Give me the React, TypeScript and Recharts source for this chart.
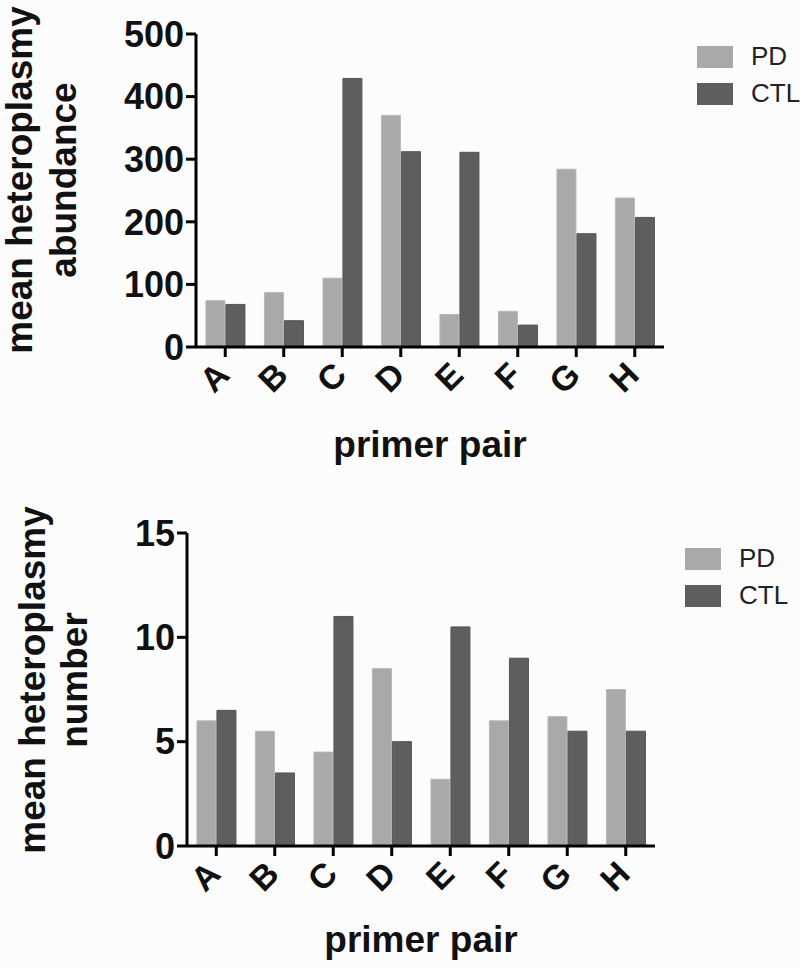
import { BarChart, Bar, XAxis, YAxis } from 'recharts'

const primerPairs = ['A', 'B', 'C', 'D', 'E', 'F', 'G', 'H']
const abundancePD = [74, 87, 110, 370, 52, 57, 284, 238]
const abundanceCTL = [68, 42, 429, 312, 311, 35, 181, 207]
const numberPD = [6, 5.5, 4.5, 8.5, 3.2, 6, 6.2, 7.5]
const numberCTL = [6.5, 3.5, 11, 5, 10.5, 9, 5.5, 5.5]
const abundanceTicks = [0, 100, 200, 300, 400, 500]
const numberTicks = [0, 5, 10, 15]
const seriesNames = ['PD', 'CTL']

const abundanceData = primerPairs.map((name, i) => ({ name, PD: abundancePD[i], CTL: abundanceCTL[i] }))
const numberData = primerPairs.map((name, i) => ({ name, PD: numberPD[i], CTL: numberCTL[i] }))

const FONT = '"Liberation Sans", Arial, sans-serif'
const PD_COLOR = '#a9a9a9'
const CTL_COLOR = '#5e5e5e'
const colors: Record<string, string> = { PD: PD_COLOR, CTL: CTL_COLOR }

const XTick = (props: any) => {
  const { x, y, payload } = props
  return (
    <g transform={`translate(${x + 6},${y + 18})`}>
      <text
        transform="rotate(-45)"
        textAnchor="end"
        fontFamily={FONT}
        fontWeight="bold"
        fontSize={34}
        fill="#111"
      >
        {payload.value}
      </text>
    </g>
  )
}

const LegendBox = ({ left, top }: { left: number; top: number }) => (
  <div style={{ position: 'absolute', left, top, fontFamily: FONT, fontSize: 26, color: '#222', whiteSpace: 'nowrap' }}>
    {seriesNames.map((label) => (
      <div key={label} style={{ display: 'flex', alignItems: 'center', height: 37 }}>
        <span
          style={{
            width: 36,
            height: 22,
            flexShrink: 0,
            background: colors[label],
            marginRight: 18,
            display: 'inline-block',
          }}
        />
        <span>{label}</span>
      </div>
    ))}
  </div>
)

function Panel({
  data,
  ticks,
  max,
  lines,
  plotLeft,
  plotTop,
  titleX1,
  titleX2,
  titleY,
  xLabelY,
  legendLeft,
  legendTop,
}: {
  data: any[]
  ticks: number[]
  max: number
  lines: string[]
  plotLeft: number
  plotTop: number
  titleX1: number
  titleX2: number
  titleY: number
  xLabelY: number
  legendLeft: number
  legendTop: number
}) {
  const plotHeight = 313
  const plotWidth = 468
  const height = 470
  const xAxisHeight = 60
  return (
    <div style={{ position: 'relative', width: 800, height }}>
      <BarChart
        width={800}
        height={height}
        data={data}
        margin={{
          top: plotTop,
          left: 0,
          right: 800 - plotLeft - plotWidth,
          bottom: height - plotTop - plotHeight - xAxisHeight,
        }}
        barGap={1}
        barCategoryGap="17%"
      >
        <XAxis
          dataKey="name"
          height={xAxisHeight}
          stroke="#000"
          strokeWidth={3}
          tickSize={10}
          tickMargin={2}
          tick={<XTick />}
          interval={0}
          label={{
            content: (p: any) => (
              <text
                x={p.viewBox.x + p.viewBox.width / 2}
                y={xLabelY}
                textAnchor="middle"
                fontFamily={FONT}
                fontWeight="bold"
                fontSize={37}
                fill="#111"
              >
                primer pair
              </text>
            ),
          }}
        />
        <YAxis
          width={plotLeft}
          domain={[0, max]}
          ticks={ticks}
          interval={0}
          stroke="#000"
          strokeWidth={3}
          tickSize={10}
          tickMargin={2}
          tick={{ fontFamily: FONT, fontWeight: 'bold', fontSize: 36, fill: '#111' }}
          label={{
            content: () => (
              <g fontFamily={FONT} fontWeight="bold" fontSize={37} fill="#111" textAnchor="middle">
                <text transform={`translate(${titleX1},${titleY}) rotate(-90)`}>{lines[0]}</text>
                <text transform={`translate(${titleX2},${titleY}) rotate(-90)`}>{lines[1]}</text>
              </g>
            ),
          }}
        />
        <Bar dataKey="PD" fill={PD_COLOR} stroke="#b8b8b8" strokeWidth={1} isAnimationActive={false} />
        <Bar dataKey="CTL" fill={CTL_COLOR} stroke="#555" strokeWidth={1} isAnimationActive={false} />
      </BarChart>
      <LegendBox left={legendLeft} top={legendTop} />
    </div>
  )
}

export default function App() {
  return (
    <div style={{ position: 'absolute', left: 0, top: 0, width: 800, height: 968, background: '#fcfcfc', overflow: 'hidden' }}>
      <div style={{ position: 'absolute', left: 0, top: 0 }}>
        <Panel
          data={abundanceData}
          ticks={abundanceTicks}
          max={500}
          lines={['mean heteroplasmy', 'abundance']}
          plotLeft={196}
          plotTop={34}
          titleX1={32}
          titleX2={76}
          titleY={180}
          xLabelY={457}
          legendLeft={697}
          legendTop={38}
        />
      </div>
      <div style={{ position: 'absolute', left: 0, top: 498 }}>
        <Panel
          data={numberData}
          ticks={numberTicks}
          max={15}
          lines={['mean heteroplasmy', 'number']}
          plotLeft={187}
          plotTop={35}
          titleX1={45}
          titleX2={87}
          titleY={182}
          xLabelY={454}
          legendLeft={685}
          legendTop={42}
        />
      </div>
    </div>
  )
}
